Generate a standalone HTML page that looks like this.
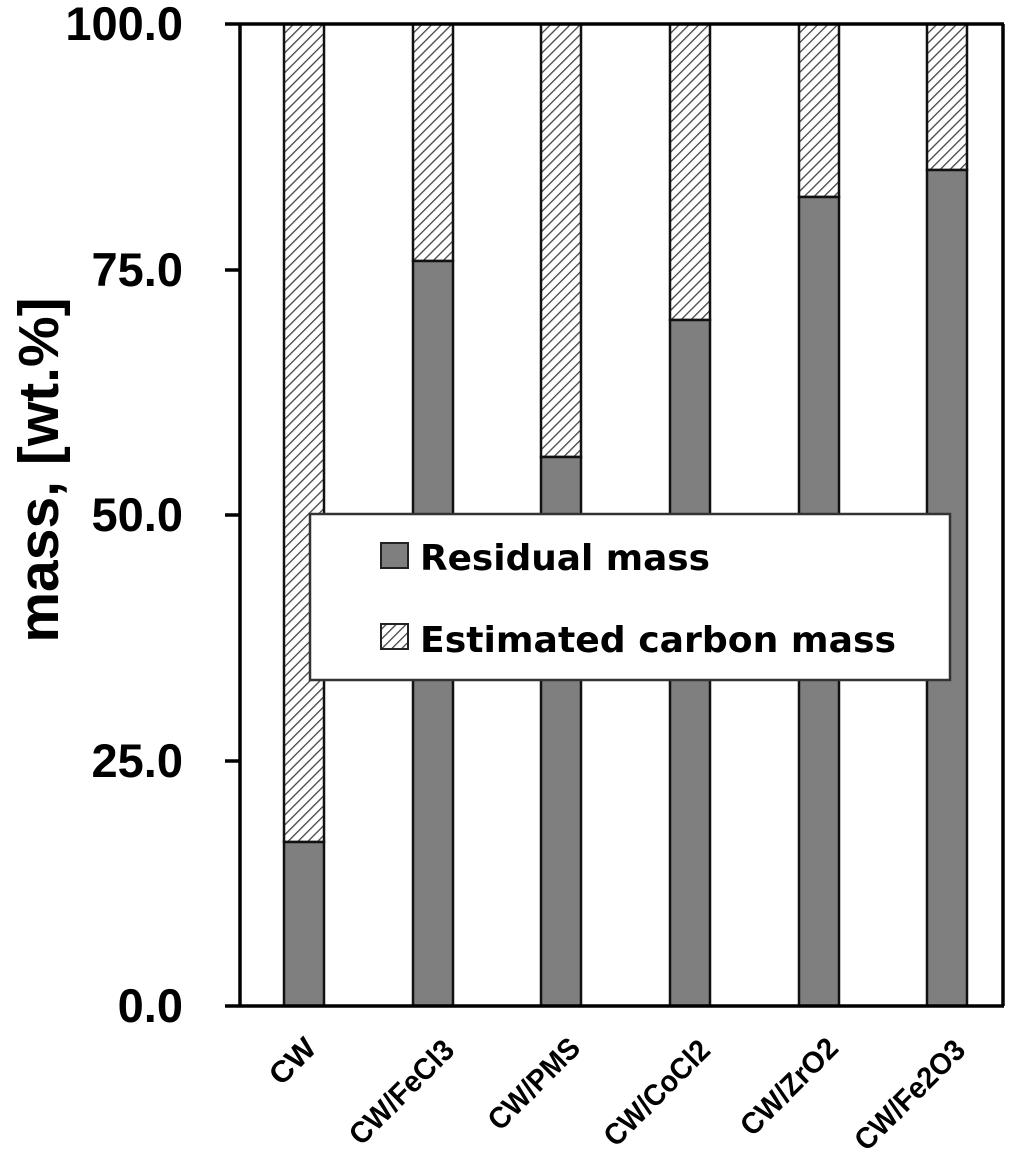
<!DOCTYPE html>
<html><head><meta charset="utf-8"><style>
html,body{margin:0;padding:0;background:#fff}
svg{display:block}
</style></head><body>
<svg width="1016" height="1159" xmlns="http://www.w3.org/2000/svg">
<defs>
<pattern id="h" patternUnits="userSpaceOnUse" width="7" height="7" patternTransform="rotate(45)">
<rect width="7" height="7" fill="#fff"/>
<line x1="0" y1="0" x2="0" y2="7" stroke="#444" stroke-width="2.6"/>
</pattern>
</defs>
<g stroke="#111" stroke-width="2.5">
<rect x="284" y="24" width="40" height="818" fill="url(#h)"/>
<rect x="284" y="842" width="40" height="164" fill="#7f7f7f"/>
<rect x="413" y="24" width="40" height="237" fill="url(#h)"/>
<rect x="413" y="261" width="40" height="745" fill="#7f7f7f"/>
<rect x="541" y="24" width="40" height="433" fill="url(#h)"/>
<rect x="541" y="457" width="40" height="549" fill="#7f7f7f"/>
<rect x="670" y="24" width="40" height="296" fill="url(#h)"/>
<rect x="670" y="320" width="40" height="686" fill="#7f7f7f"/>
<rect x="799" y="24" width="40" height="173" fill="url(#h)"/>
<rect x="799" y="197" width="40" height="809" fill="#7f7f7f"/>
<rect x="927" y="24" width="40" height="146" fill="url(#h)"/>
<rect x="927" y="170" width="40" height="836" fill="#7f7f7f"/>
</g>
<g stroke="#000" stroke-width="3.5" fill="none">
<line x1="240" y1="24" x2="240" y2="1006"/>
<line x1="225" y1="24" x2="1004" y2="24"/>
<line x1="1003" y1="24" x2="1003" y2="1006"/>
<line x1="225" y1="1006" x2="1004" y2="1006"/>
<line x1="225" y1="270" x2="240" y2="270"/>
<line x1="225" y1="515" x2="240" y2="515"/>
<line x1="225" y1="761" x2="240" y2="761"/>
</g>
<g font-family="Liberation Sans, sans-serif" font-weight="bold" font-size="47" text-anchor="end" fill="#000">
<text x="183" y="40">100.0</text>
<text x="183" y="286">75.0</text>
<text x="183" y="531">50.0</text>
<text x="183" y="777">25.0</text>
<text x="183" y="1022">0.0</text>
</g>
<text transform="translate(58,470) rotate(-90)" font-family="Liberation Sans, sans-serif" font-weight="bold" font-size="57" text-anchor="middle">mass, [wt.%]</text>
<g font-family="Liberation Sans, sans-serif" font-weight="bold" font-size="30" text-anchor="end">
<text transform="translate(318,1050) rotate(-45)" textLength="52" lengthAdjust="spacingAndGlyphs">CW</text>
<text transform="translate(456,1052) rotate(-45)" textLength="134" lengthAdjust="spacingAndGlyphs">CW/FeCl3</text>
<text transform="translate(582,1050) rotate(-45)" textLength="116" lengthAdjust="spacingAndGlyphs">CW/PMS</text>
<text transform="translate(712,1052) rotate(-45)" textLength="136" lengthAdjust="spacingAndGlyphs">CW/CoCl2</text>
<text transform="translate(840,1050) rotate(-45)" textLength="124" lengthAdjust="spacingAndGlyphs">CW/ZrO2</text>
<text transform="translate(967,1052) rotate(-45)" textLength="142" lengthAdjust="spacingAndGlyphs">CW/Fe2O3</text>
</g>
<rect x="310" y="514" width="640" height="166" fill="#fff" stroke="#333" stroke-width="2.5"/>
<rect x="381" y="543" width="27" height="25" fill="#7f7f7f" stroke="#222" stroke-width="2"/>
<rect x="381" y="624" width="27" height="25" fill="url(#h)" stroke="#222" stroke-width="2"/>
<g font-family="DejaVu Sans, sans-serif" font-weight="bold" font-size="36" fill="#000">
<text x="420" y="570" textLength="290" lengthAdjust="spacingAndGlyphs">Residual  mass</text>
<text x="420" y="652" textLength="476" lengthAdjust="spacingAndGlyphs">Estimated  carbon  mass</text>
</g>
</svg>
</body></html>
